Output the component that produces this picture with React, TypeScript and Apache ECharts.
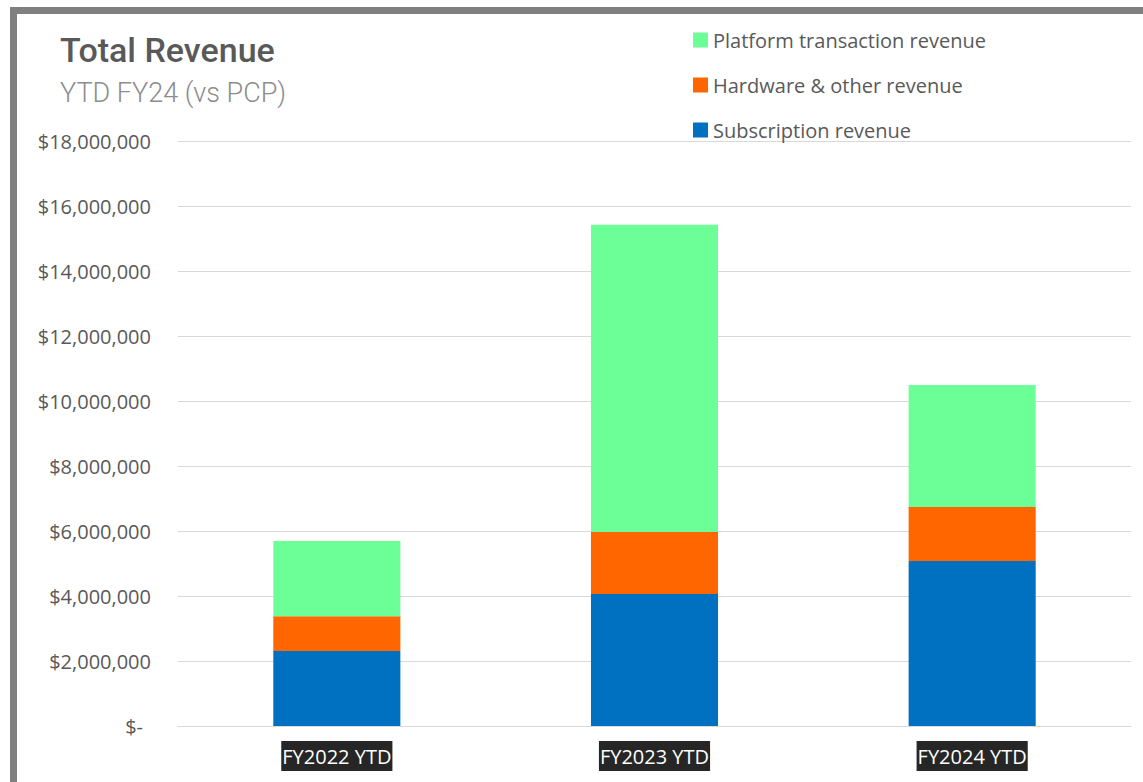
import React, { useEffect, useRef } from "react";
import * as echarts from "echarts";

const categories = ["FY2022 YTD", "FY2023 YTD", "FY2024 YTD"];
const subscriptionRevenue = [2310000, 4060000, 5080000];
const hardwareRevenue = [1070000, 1910000, 1660000];
const platformRevenue = [2310000, 9450000, 3750000];
const seriesNames = ["Subscription revenue", "Hardware & other revenue", "Platform transaction revenue"];
const legendOrder = ["Platform transaction revenue", "Hardware & other revenue", "Subscription revenue"];
const colors = ["#0070C0", "#FF6600", "#6CFF98"];
const titleText = "Total Revenue";
const subtitleText = "YTD FY24 (vs PCP)";

export default function App() {
  const ref = useRef<HTMLDivElement>(null);
  useEffect(() => {
    if (!ref.current) return;
    const chart = echarts.init(ref.current, null, { renderer: "svg" });
    const values = [subscriptionRevenue, hardwareRevenue, platformRevenue];
    chart.setOption({
      animation: false,
      backgroundColor: "#ffffff",
      graphic: [
        {
          type: "rect",
          z: -10,
          shape: { x: 13.5, y: 10.5, width: 1300, height: 900 },
          style: { fill: "#ffffff", stroke: "#808080", lineWidth: 7 },
        },
        {
          type: "text",
          x: 60,
          y: 33,
          style: {
            text: titleText,
            fontFamily: "Roboto",
            fontSize: 34,
            fontWeight: 500,
            fill: "#595959",
          },
        },
        {
          type: "text",
          x: 60,
          y: 79,
          style: {
            text: subtitleText,
            fontFamily: "Roboto",
            fontSize: 27,
            fontWeight: 300,
            fill: "#8c8c8c",
          },
        },
      ],
      legend: {
        data: legendOrder,
        orient: "vertical",
        left: 693,
        top: 30,
        padding: 0,
        icon: "rect",
        itemWidth: 15,
        itemHeight: 15,
        itemGap: 25,
        textStyle: { fontFamily: "Open Sans", fontSize: 20, color: "#595959", lineHeight: 20 },
      },
      grid: { left: 178, right: 12, top: 141, bottom: 56, containLabel: false },
      xAxis: {
        type: "category",
        data: categories,
        axisLine: { lineStyle: { color: "#d9d9d9", width: 1 } },
        axisTick: { show: false },
        axisLabel: {
          margin: 15,
          color: "#ffffff",
          backgroundColor: "#262626",
          fontFamily: "Open Sans",
          fontSize: 20,
          lineHeight: 23,
          padding: [4, 1, 3, 1],
        },
      },
      yAxis: {
        type: "value",
        min: 0,
        max: 18000000,
        interval: 2000000,
        axisLine: { show: false },
        axisTick: { show: false },
        splitLine: { lineStyle: { color: "#d9d9d9", width: 1 } },
        axisLabel: {
          margin: 27,
          color: "#595959",
          fontFamily: "Open Sans",
          fontSize: 20,
          formatter: (v: number) =>
            v === 0 ? "{z|$-}" : "$" + v.toLocaleString("en-US"),
          rich: {
            z: { fontFamily: "Open Sans", fontSize: 20, color: "#595959", padding: [0, 8, 0, 0] },
          },
        },
      },
      series: seriesNames.map((name, i) => ({
        name,
        type: "bar",
        stack: "total",
        data: values[i],
        barWidth: "40%",
        itemStyle: { color: colors[i] },
      })),
    });
    return () => chart.dispose();
  }, []);
  return (
    <div
      ref={ref}
      style={{ position: "fixed", left: 0, top: 0, width: 1143, height: 782 }}
    />
  );
}
